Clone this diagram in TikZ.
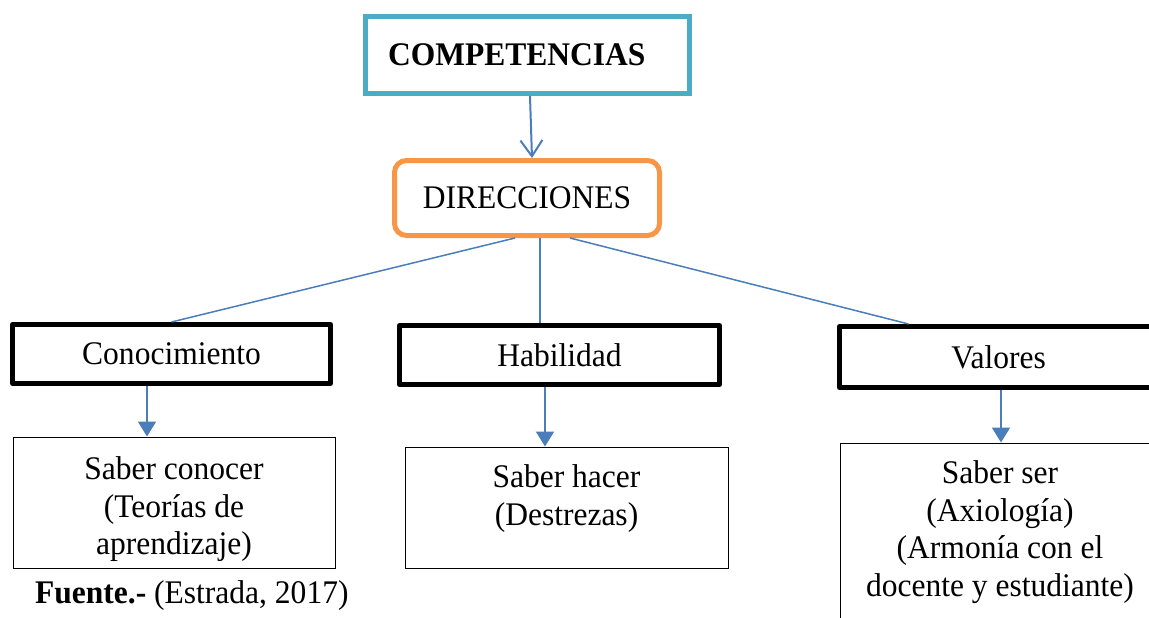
\documentclass[tikz,border=0pt]{standalone}
\usepackage{fontspec}
\setmainfont{Liberation Serif}[FakeStretch=0.955]
\usetikzlibrary{positioning, calc, arrows.meta}

\definecolor{compteal}{HTML}{4BACC6}
\definecolor{dirorange}{HTML}{F79646}
\definecolor{linkblue}{HTML}{4A7EBB}

\tikzset{
    txt/.style={font=\fontsize{33}{37.5}\selectfont, align=center, inner sep=0pt},
    thickbox/.style={draw, line width=5pt, line join=round, txt},
    thinbox/.style={draw, line width=1pt, inner sep=0pt},
    link/.style={draw=linkblue, line width=1.5pt},
    downarrow/.style={draw=linkblue, line width=2pt, -{Triangle[length=15pt,width=18pt]}},
}

\begin{document}
\begin{tikzpicture}[x=1pt, y=-1pt]

        \useasboundingbox (0,0) rectangle (1149,618);

        % top of the chart
        \node[draw=compteal, line width=5pt, minimum width=324pt, minimum height=77pt,
              text width=279pt, inner xsep=22.5pt, align=left,
              font=\fontsize{33}{37.5}\selectfont\bfseries] (comp) at (527.5,55) {COMPETENCIAS};
        \node[draw=dirorange, line width=5pt, rounded corners=12pt,
              minimum width=265pt, minimum height=75pt, txt] (dir) at (527,198) {DIRECCIONES};

        \draw[draw=linkblue, line width=2pt, -{Straight Barb[length=16pt,width=22pt]}]
            ([xshift=2.5pt]comp.south) -- ([xshift=5pt]dir.north);

        % the three directions
        \node[thickbox, minimum width=318pt, minimum height=59pt] (con) at (171.5,354) {Conocimiento};
        \node[thickbox, minimum width=320pt, minimum height=59pt] (hab) at (559.5,355) {Habilidad};
        \node[thickbox, minimum width=318pt, minimum height=61pt] (val) at (998.5,357) {Valores};

        \draw[link] ([xshift=-12pt]dir.south) -- (con.north);
        \draw[link] ([xshift=13pt]dir.south) -- ([xshift=13pt]dir.south |- hab.north);
        \draw[link] ([xshift=43pt]dir.south) -- ([xshift=-90pt]val.north);

        % saber ...
        \node[thinbox, minimum width=322pt, minimum height=131pt] (sc) at (174,502.5) {};
        \node[thinbox, minimum width=323pt, minimum height=121pt] (sh) at (566.5,507.5) {};
        \node[thinbox, minimum width=320pt, minimum height=187pt] (ss) at (1000,536.5) {};

        \node[txt, anchor=north] (sctext) at ($(sc.north)+(0,20)$) {Saber conocer\\(Teorías de\\aprendizaje)};
        \node[txt, anchor=north] (shtext) at ($(sh.north)+(0,18)$) {Saber hacer\\(Destrezas)};
        \node[txt, anchor=north] (sstext) at ($(ss.north)+(0,18)$) {Saber ser\\(Axiología)\\(Armonía con el\\docente y estudiante)};

        \draw[downarrow] ([xshift=-24.5pt]con.south) -- ([xshift=-24.5pt]con.south |- sc.north);
        \draw[downarrow] ([xshift=-14.5pt]hab.south) -- ([xshift=-14.5pt]hab.south |- sh.north);
        \draw[downarrow] ([xshift=2.5pt]val.south) -- ([xshift=2.5pt]val.south |- ss.north);

        \node[txt, anchor=base west] (fuente) at (35,603) {\textbf{Fuente.-} (Estrada, 2017)};

\end{tikzpicture}
\end{document}
